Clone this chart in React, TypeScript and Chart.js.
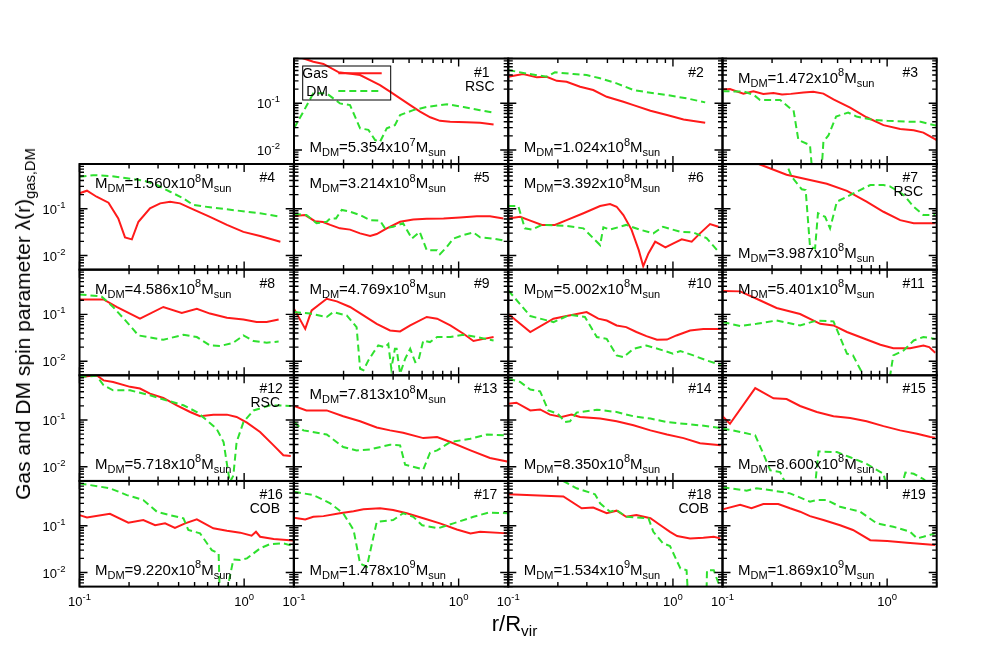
import React, { useEffect, useRef } from "react";
import { Chart, registerables } from "chart.js";

Chart.register(...registerables);

// ---------- axis ranges & ticks ----------
const X_MIN = 0.1;
const X_MAX = 2;
const Y_MIN = 0.005;
const Y_MAX = 0.9;

const xMajorTicks = [0.1, 1];
const xMinorTicks = [0.2, 0.3, 0.4, 0.5, 0.6, 0.7, 0.8, 0.9, 2];
const yMajorTicks = [0.01, 0.1];
const yMinorTicks = [
  0.005, 0.006, 0.007, 0.008, 0.009,
  0.02, 0.03, 0.04, 0.05, 0.06, 0.07, 0.08, 0.09,
  0.2, 0.3, 0.4, 0.5, 0.6, 0.7, 0.8, 0.9,
];
const xTickLabels: [number, string][] = [[0.1, "-1"], [1, "0"]];
const yTickLabels: [number, string][] = [[0.1, "-1"], [0.01, "-2"]];

// ---------- panel annotations ----------
const panelNumbers = [1, 2, 3, 4, 5, 6, 7, 8, 9, 10, 11, 12, 13, 14, 15, 16, 17, 18, 19];
const massMantissa = ["5.354", "1.024", "1.472", "1.560", "3.214", "3.392", "3.987", "4.586", "4.769", "5.002", "5.401", "5.718", "7.813", "8.350", "8.600", "9.220", "1.478", "1.534", "1.869"];
const massExponent = ["7", "8", "8", "8", "8", "8", "8", "8", "8", "8", "8", "8", "8", "8", "8", "8", "9", "9", "9"];
const massAtTop = [false, false, true, true, true, true, false, true, true, true, true, false, true, false, false, false, false, false, false];
const panelTags = ["RSC", "", "", "", "", "", "RSC", "", "", "", "", "RSC", "", "", "", "COB", "", "COB", ""];

// ---------- data: [r/Rvir, lambda] ----------
type Pt = [number, number];
const gas1: Pt[] = [[0.1,1.05],[0.117,0.88],[0.131,0.77],[0.151,0.69],[0.186,0.46],[0.252,0.40],[0.29,0.31],[0.333,0.244],[0.383,0.176],[0.441,0.127],[0.508,0.091],[0.583,0.066],[0.672,0.05],[0.77,0.042],[0.888,0.04],[1.12,0.039],[1.35,0.038],[1.63,0.035]];
const dm1: Pt[] = [[0.1,0.029],[0.114,0.066],[0.131,0.162],[0.158,0.162],[0.19,0.099],[0.219,0.091],[0.252,0.029],[0.283,0.027],[0.311,0.0163],[0.333,0.015],[0.366,0.029],[0.41,0.034],[0.441,0.056],[0.53,0.071],[0.64,0.083],[0.85,0.095],[1.07,0.083],[1.35,0.071],[1.63,0.0625]];
const gas2: Pt[] = [[0.1,0.367],[0.123,0.42],[0.149,0.356],[0.171,0.367],[0.197,0.30],[0.226,0.287],[0.273,0.225],[0.328,0.191],[0.396,0.137],[0.5,0.107],[0.576,0.091],[0.73,0.069],[0.92,0.056],[1.16,0.045],[1.57,0.038]];
const dm2: Pt[] = [[0.1,0.51],[0.129,0.43],[0.171,0.367],[0.192,0.456],[0.248,0.42],[0.299,0.40],[0.361,0.34],[0.455,0.265],[0.576,0.191],[0.73,0.167],[0.92,0.149],[1.21,0.127],[1.57,0.104]];
const gas3: Pt[] = [[0.1,0.195],[0.111,0.20],[0.134,0.16],[0.154,0.18],[0.177,0.158],[0.204,0.165],[0.23,0.153],[0.26,0.158],[0.31,0.17],[0.356,0.175],[0.41,0.16],[0.472,0.12],[0.596,0.08],[0.75,0.05],[0.95,0.034],[1.2,0.028],[1.45,0.0265],[1.66,0.0235],[2.0,0.0163]];
const dm3: Pt[] = [[0.1,0.18],[0.135,0.177],[0.155,0.15],[0.169,0.117],[0.224,0.117],[0.255,0.08],[0.27,0.071],[0.289,0.0163],[0.34,0.0127],[0.35,0.0037],[0.40,0.0037],[0.41,0.015],[0.44,0.0205],[0.49,0.052],[0.58,0.063],[0.65,0.052],[0.82,0.044],[1.0,0.042],[1.38,0.040],[1.6,0.040],[2.0,0.033]];
const gas4: Pt[] = [[0.1,0.213],[0.111,0.242],[0.127,0.18],[0.150,0.134],[0.172,0.062],[0.189,0.0244],[0.208,0.0221],[0.228,0.0526],[0.268,0.102],[0.309,0.13],[0.355,0.141],[0.408,0.13],[0.49,0.097],[0.62,0.067],[0.786,0.045],[0.99,0.032],[1.25,0.026],[1.66,0.0197]];
const dm4: Pt[] = [[0.1,0.48],[0.121,0.52],[0.153,0.50],[0.194,0.446],[0.244,0.40],[0.295,0.32],[0.355,0.23],[0.428,0.166],[0.49,0.12],[0.62,0.107],[0.786,0.097],[1.04,0.086],[1.25,0.08],[1.66,0.067]];
const gas5: Pt[] = [[0.1,0.070],[0.117,0.073],[0.134,0.054],[0.15,0.052],[0.166,0.045],[0.19,0.038],[0.219,0.0357],[0.252,0.0297],[0.29,0.026],[0.318,0.0287],[0.366,0.038],[0.441,0.0526],[0.53,0.059],[0.64,0.061],[0.81,0.062],[1.02,0.065],[1.29,0.069],[1.55,0.069],[1.87,0.062]];
const dm5: Pt[] = [[0.1,0.077],[0.119,0.073],[0.137,0.049],[0.158,0.0526],[0.166,0.062],[0.18,0.062],[0.195,0.094],[0.219,0.086],[0.252,0.073],[0.29,0.057],[0.333,0.0555],[0.357,0.038],[0.40,0.041],[0.46,0.049],[0.52,0.023],[0.58,0.032],[0.64,0.013],[0.74,0.013],[0.77,0.0107],[0.85,0.0154],[0.93,0.023],[1.07,0.0273],[1.23,0.031],[1.35,0.0244],[1.63,0.023],[1.92,0.0206]];
const gas6: Pt[] = [[0.1,0.062],[0.118,0.067],[0.136,0.0555],[0.16,0.045],[0.192,0.045],[0.226,0.057],[0.286,0.080],[0.361,0.114],[0.415,0.126],[0.455,0.11],[0.5,0.073],[0.56,0.0357],[0.62,0.013],[0.66,0.0059],[0.71,0.0111],[0.78,0.0197],[0.9,0.0149],[1.0,0.018],[1.13,0.0221],[1.3,0.0197],[1.46,0.0297],[1.68,0.047],[1.89,0.041]];
const dm6: Pt[] = [[0.1,0.114],[0.115,0.114],[0.126,0.038],[0.139,0.0357],[0.16,0.045],[0.226,0.0427],[0.286,0.038],[0.361,0.0167],[0.378,0.040],[0.415,0.0357],[0.52,0.045],[0.63,0.0357],[0.76,0.0297],[0.87,0.041],[1.11,0.032],[1.33,0.031],[1.6,0.0235],[1.89,0.012]];
const gas7: Pt[] = [[0.1,1.9],[0.169,0.88],[0.245,0.53],[0.34,0.41],[0.43,0.34],[0.57,0.24],[0.75,0.141],[0.95,0.086],[1.2,0.057],[1.45,0.049],[1.96,0.049]];
const dm7: Pt[] = [[0.2,1.4],[0.245,0.9],[0.263,0.48],[0.303,0.26],[0.32,0.25],[0.34,0.0154],[0.365,0.0142],[0.38,0.08],[0.42,0.067],[0.45,0.038],[0.495,0.141],[0.57,0.18],[0.685,0.25],[0.79,0.32],[0.95,0.32],[1.04,0.30],[1.26,0.197],[1.45,0.11],[1.66,0.073],[1.96,0.073]];
const gas8: Pt[] = [[0.1,0.209],[0.14,0.209],[0.168,0.144],[0.233,0.081],[0.323,0.144],[0.418,0.107],[0.516,0.132],[0.62,0.104],[0.786,0.085],[0.99,0.078],[1.19,0.0685],[1.37,0.0685],[1.62,0.078]];
const dm8: Pt[] = [[0.1,0.267],[0.136,0.242],[0.16,0.144],[0.194,0.0685],[0.228,0.0355],[0.323,0.0287],[0.428,0.0367],[0.516,0.0328],[0.62,0.0217],[0.72,0.0212],[0.86,0.0248],[0.99,0.0355],[1.14,0.027],[1.37,0.0248],[1.62,0.0262]];
const gas9: Pt[] = [[0.1,0.132],[0.117,0.049],[0.128,0.122],[0.158,0.216],[0.182,0.19],[0.219,0.144],[0.264,0.095],[0.318,0.063],[0.383,0.0454],[0.441,0.0433],[0.508,0.058],[0.64,0.088],[0.74,0.081],[0.89,0.058],[1.07,0.0386],[1.23,0.027],[1.42,0.030],[1.63,0.0328]];
const dm9: Pt[] = [[0.1,0.112],[0.125,0.104],[0.158,0.088],[0.173,0.112],[0.209,0.095],[0.24,0.0535],[0.252,0.0069],[0.264,0.0064],[0.283,0.0104],[0.303,0.0152],[0.325,0.0217],[0.357,0.02],[0.374,0.0235],[0.39,0.0069],[0.41,0.0184],[0.42,0.0184],[0.441,0.0054],[0.473,0.0112],[0.508,0.0184],[0.545,0.0096],[0.57,0.0104],[0.61,0.0277],[0.67,0.0256],[0.74,0.0328],[0.89,0.0328],[1.07,0.0367],[1.29,0.0328],[1.63,0.0277]];
const gas10: Pt[] = [[0.1,0.102],[0.136,0.042],[0.188,0.081],[0.226,0.092],[0.299,0.112],[0.352,0.081],[0.396,0.074],[0.455,0.058],[0.52,0.0535],[0.60,0.042],[0.69,0.0344],[0.80,0.0287],[0.92,0.029],[1.05,0.0355],[1.27,0.0454],[1.53,0.049],[1.95,0.049]];
const dm10: Pt[] = [[0.1,0.325],[0.136,0.092],[0.188,0.0685],[0.237,0.098],[0.292,0.088],[0.345,0.0328],[0.396,0.030],[0.455,0.0133],[0.50,0.0122],[0.576,0.0184],[0.69,0.0217],[0.87,0.017],[1.0,0.0145],[1.11,0.0165],[1.33,0.0133],[1.6,0.0104],[1.95,0.0084]];
const gas11: Pt[] = [[0.1,0.315],[0.128,0.31],[0.161,0.216],[0.213,0.137],[0.296,0.102],[0.392,0.063],[0.472,0.058],[0.57,0.042],[0.75,0.029],[0.91,0.0224],[1.09,0.019],[1.38,0.019],[1.66,0.0217],[1.8,0.020],[1.96,0.0152]];
const dm11: Pt[] = [[0.1,0.0685],[0.128,0.0565],[0.161,0.063],[0.213,0.074],[0.296,0.058],[0.374,0.074],[0.472,0.071],[0.57,0.0145],[0.62,0.0133],[0.70,0.0059],[0.72,0.003],[1.02,0.003],[1.09,0.0133],[1.26,0.017],[1.45,0.0277],[1.66,0.0328],[1.96,0.030]];
const gas12: Pt[] = [[0.1,0.83],[0.127,0.9],[0.14,0.70],[0.16,0.65],[0.203,0.51],[0.233,0.47],[0.268,0.366],[0.323,0.295],[0.39,0.206],[0.47,0.148],[0.54,0.12],[0.65,0.13],[0.786,0.13],[0.90,0.116],[1.04,0.088],[1.25,0.0555],[1.51,0.0287],[1.73,0.0176],[1.92,0.017]];
const dm12: Pt[] = [[0.1,0.83],[0.127,0.88],[0.14,0.55],[0.16,0.43],[0.203,0.43],[0.268,0.336],[0.355,0.25],[0.428,0.206],[0.516,0.148],[0.594,0.098],[0.68,0.065],[0.75,0.0338],[0.80,0.0077],[0.82,0.0047],[0.86,0.0065],[0.90,0.0338],[0.99,0.090],[1.14,0.16],[1.44,0.206],[1.92,0.2]];
const gas13: Pt[] = [[0.1,0.199],[0.119,0.16],[0.158,0.16],[0.199,0.12],[0.252,0.094],[0.318,0.069],[0.383,0.06],[0.46,0.0535],[0.61,0.041],[0.74,0.0433],[0.89,0.0338],[1.18,0.0224],[1.55,0.0154],[1.97,0.013]];
const dm13: Pt[] = [[0.1,0.090],[0.114,0.06],[0.158,0.049],[0.199,0.0264],[0.24,0.0224],[0.29,0.0235],[0.383,0.0297],[0.441,0.0287],[0.473,0.0111],[0.61,0.0088],[0.67,0.02],[0.74,0.0224],[0.89,0.0338],[1.18,0.0398],[1.49,0.049],[1.97,0.047]];
const gas14: Pt[] = [[0.1,0.223],[0.112,0.234],[0.136,0.16],[0.156,0.168],[0.179,0.13],[0.211,0.116],[0.242,0.13],[0.273,0.116],[0.361,0.107],[0.455,0.094],[0.576,0.077],[0.73,0.06],[0.92,0.049],[1.16,0.041],[1.46,0.032],[1.95,0.0287]];
const dm14: Pt[] = [[0.1,0.76],[0.118,0.65],[0.136,0.446],[0.156,0.41],[0.175,0.16],[0.20,0.136],[0.221,0.09],[0.237,0.094],[0.26,0.144],[0.345,0.166],[0.455,0.148],[0.576,0.12],[0.73,0.107],[0.92,0.09],[1.16,0.083],[1.46,0.077],[1.95,0.067]];
const gas15: Pt[] = [[0.1,0.12],[0.111,0.083],[0.158,0.48],[0.204,0.29],[0.245,0.28],[0.296,0.199],[0.374,0.148],[0.472,0.12],[0.596,0.11],[0.75,0.094],[0.95,0.074],[1.2,0.06],[1.52,0.051],[1.83,0.0433],[1.96,0.042]];
const dm15: Pt[] = [[0.1,0.065],[0.116,0.06],[0.158,0.047],[0.177,0.019],[0.195,0.0084],[0.224,0.0077],[0.245,0.004],[0.365,0.004],[0.383,0.0212],[0.495,0.0206],[0.596,0.016],[0.75,0.0116],[0.95,0.0071],[0.99,0.004],[1.23,0.004],[1.29,0.0075],[1.45,0.0071],[1.66,0.0055],[1.83,0.004]];
const gas16: Pt[] = [[0.1,0.168],[0.111,0.15],[0.153,0.18],[0.198,0.116],[0.244,0.132],[0.288,0.102],[0.331,0.112],[0.38,0.09],[0.438,0.112],[0.516,0.137],[0.65,0.088],[0.786,0.078],[0.946,0.071],[1.11,0.061],[1.18,0.074],[1.25,0.058],[1.51,0.052],[1.98,0.048]];
const dm16: Pt[] = [[0.1,0.8],[0.153,0.63],[0.194,0.45],[0.244,0.353],[0.295,0.199],[0.355,0.168],[0.428,0.144],[0.458,0.081],[0.54,0.0685],[0.636,0.030],[0.70,0.0256],[0.71,0.004],[0.786,0.004],[0.86,0.019],[0.946,0.0184],[1.04,0.02],[1.25,0.0328],[1.44,0.0405],[1.73,0.042],[1.98,0.0367]];
const gas17: Pt[] = [[0.1,0.148],[0.117,0.136],[0.131,0.155],[0.151,0.16],[0.19,0.184],[0.23,0.203],[0.264,0.225],[0.333,0.235],[0.40,0.216],[0.484,0.184],[0.61,0.144],[0.77,0.112],[0.975,0.083],[1.18,0.0685],[1.35,0.074],[1.99,0.0685]];
const dm17: Pt[] = [[0.1,0.53],[0.131,0.45],[0.166,0.30],[0.199,0.184],[0.23,0.081],[0.252,0.0155],[0.277,0.0133],[0.318,0.12],[0.40,0.132],[0.46,0.184],[0.53,0.155],[0.60,0.102],[0.75,0.088],[0.93,0.112],[1.23,0.155],[1.52,0.19],[1.99,0.184]];
const gas18: Pt[] = [[0.1,0.47],[0.216,0.42],[0.279,0.235],[0.328,0.245],[0.396,0.184],[0.455,0.209],[0.52,0.155],[0.60,0.168],[0.73,0.144],[0.84,0.102],[0.96,0.074],[1.06,0.06],[1.27,0.0535],[1.53,0.0555],[1.77,0.058],[1.94,0.0535]];
const dm18: Pt[] = [[0.1,1.3],[0.216,0.9],[0.26,0.63],[0.336,0.47],[0.361,0.30],[0.415,0.199],[0.455,0.216],[0.52,0.155],[0.71,0.144],[0.76,0.074],[0.87,0.042],[0.96,0.0367],[1.11,0.0122],[1.21,0.0112],[1.23,0.004],[1.60,0.004],[1.61,0.0112],[1.77,0.0112],[1.89,0.0059],[1.94,0.004]];
const gas19: Pt[] = [[0.1,0.223],[0.128,0.28],[0.15,0.235],[0.177,0.29],[0.218,0.29],[0.257,0.235],[0.296,0.199],[0.34,0.16],[0.41,0.132],[0.518,0.102],[0.62,0.081],[0.79,0.049],[1.0,0.047],[1.32,0.0433],[1.96,0.0386]];
const dm19: Pt[] = [[0.1,0.66],[0.14,0.56],[0.161,0.63],[0.204,0.56],[0.257,0.49],[0.34,0.325],[0.374,0.353],[0.43,0.353],[0.518,0.254],[0.685,0.199],[0.866,0.112],[1.09,0.095],[1.38,0.074],[1.52,0.0535],[1.66,0.058],[1.96,0.0685]];

const gasSeries = [gas1, gas2, gas3, gas4, gas5, gas6, gas7, gas8, gas9, gas10, gas11, gas12, gas13, gas14, gas15, gas16, gas17, gas18, gas19];
const dmSeries = [dm1, dm2, dm3, dm4, dm5, dm6, dm7, dm8, dm9, dm10, dm11, dm12, dm13, dm14, dm15, dm16, dm17, dm18, dm19];

// ---------- layout / style ----------
const FONT = "'Liberation Sans', Arial, Helvetica, sans-serif";
const RED = "#ff1a1a";
const GREEN = "#2ee02e";
const COL_LEFT = [79.5, 294, 508.3, 722.5];
const ROW_TOP = [58.5, 164, 269.7, 375.3, 481];
const PANEL_W = 214.2;
const PANEL_H = 105.6;
const ML = 50, MR = 8, MT = 8, MB = 28;

type Seg = { t: string; k: 0 | 1 | 2 };

function drawRich(
  ctx: CanvasRenderingContext2D, segs: Seg[], x: number, y: number,
  base: number, small: number, subDy: number, supDy: number, align: "left" | "center" | "right"
) {
  const fN = `${base}px ${FONT}`;
  const fS = `${small}px ${FONT}`;
  let total = 0;
  for (const s of segs) {
    ctx.font = s.k ? fS : fN;
    total += ctx.measureText(s.t).width;
  }
  let cx = align === "left" ? x : align === "center" ? x - total / 2 : x - total;
  ctx.textAlign = "left";
  ctx.textBaseline = "alphabetic";
  for (const s of segs) {
    ctx.font = s.k ? fS : fN;
    ctx.fillText(s.t, cx, y + (s.k === 1 ? subDy : s.k === 2 ? supDy : 0));
    cx += ctx.measureText(s.t).width;
  }
}

function panelGrid(i: number) {
  if (i < 3) return { row: 0, col: i + 1 };
  return { row: Math.floor((i - 3) / 4) + 1, col: (i - 3) % 4 };
}

function makeDeco(i: number) {
  const { row, col } = panelGrid(i);
  const showY = col === 0 || i === 0;
  const showX = row === 4;
  return {
    id: "deco" + i,
    afterDraw(chart: any) {
      const ctx: CanvasRenderingContext2D = chart.ctx;
      const xs = chart.scales.x;
      const ys = chart.scales.y;
      const { left, right, top, bottom } = chart.chartArea;
      ctx.save();
      ctx.strokeStyle = "#000";
      ctx.fillStyle = "#000";
      // ticks
      ctx.lineWidth = 1.4;
      ctx.beginPath();
      const xt = (v: number, len: number) => {
        const px = xs.getPixelForValue(v);
        ctx.moveTo(px, bottom); ctx.lineTo(px, bottom - len);
        ctx.moveTo(px, top); ctx.lineTo(px, top + len);
      };
      const yt = (v: number, len: number) => {
        const py = ys.getPixelForValue(v);
        ctx.moveTo(left, py); ctx.lineTo(left + len, py);
        ctx.moveTo(right, py); ctx.lineTo(right - len, py);
      };
      xMajorTicks.forEach((v) => xt(v, 8));
      xMinorTicks.forEach((v) => xt(v, 4.5));
      yMajorTicks.forEach((v) => yt(v, 8));
      yMinorTicks.forEach((v) => yt(v, 4.5));
      ctx.stroke();
      // frame
      ctx.lineWidth = 2;
      ctx.strokeRect(left, top, right - left, bottom - top);
      // tick labels
      if (showY) {
        yTickLabels.forEach(([v, e]) => {
          const py = ys.getPixelForValue(v);
          drawRich(ctx, [{ t: "10", k: 0 }, { t: e, k: 2 }], left - 14, py + 5, 13, 9.5, 0, -6, "right");
        });
      }
      if (showX) {
        xTickLabels.forEach(([v, e]) => {
          const px = xs.getPixelForValue(v);
          drawRich(ctx, [{ t: "10", k: 0 }, { t: e, k: 2 }], px, bottom + 19, 13, 9.5, 0, -6, "center");
        });
      }
      // panel number and tag
      drawRich(ctx, [{ t: "#" + panelNumbers[i], k: 0 }], left + 180, top + 18, 14, 10, 0, 0, "left");
      if (panelTags[i]) {
        drawRich(ctx, [{ t: panelTags[i], k: 0 }], left + 200.5, top + 32, 14, 10, 0, 0, "right");
      }
      // mass label
      const mass: Seg[] = [
        { t: "M", k: 0 }, { t: "DM", k: 1 }, { t: "=" + massMantissa[i] + "x10", k: 0 },
        { t: massExponent[i], k: 2 }, { t: "M", k: 0 }, { t: "sun", k: 1 },
      ];
      drawRich(ctx, mass, left + 15.5, top + (massAtTop[i] ? 24 : 93.5), 15, 11, 4, -6.5, "left");
      // key (panel #1 only)
      if (i === 0) {
        ctx.lineWidth = 1;
        ctx.strokeRect(left + 8.7, top + 7.5, 88, 34);
        drawRich(ctx, [{ t: "Gas", k: 0 }], left + 34, top + 19.8, 14, 10, 0, 0, "right");
        drawRich(ctx, [{ t: "DM", k: 0 }], left + 34, top + 37.5, 14, 10, 0, 0, "right");
        ctx.lineWidth = 2;
        ctx.strokeStyle = RED;
        ctx.beginPath();
        ctx.moveTo(left + 44.3, top + 14.8); ctx.lineTo(left + 87.7, top + 14.8);
        ctx.stroke();
        ctx.strokeStyle = GREEN;
        ctx.setLineDash([7, 4]);
        ctx.beginPath();
        ctx.moveTo(left + 44.3, top + 32.5); ctx.lineTo(left + 87.7, top + 32.5);
        ctx.stroke();
        ctx.setLineDash([]);
      }
      ctx.restore();
    },
  };
}

function Panel({ i }: { i: number }) {
  const ref = useRef<HTMLCanvasElement>(null);
  const { row, col } = panelGrid(i);
  const pl = COL_LEFT[col];
  const pt = ROW_TOP[row];
  const cLeft = Math.floor(pl) - ML;
  const cTop = Math.floor(pt) - MT;
  const W = ML + MR + Math.ceil(PANEL_W) + 1;
  const H = MT + MB + Math.ceil(PANEL_H) + 1;
  const padLeft = pl - cLeft;
  const padTop = pt - cTop;
  const padRight = W - padLeft - PANEL_W;
  const padBottom = H - padTop - PANEL_H;

  useEffect(() => {
    if (!ref.current) return;
    const toXY = (s: Pt[]) => s.map(([x, y]) => ({ x, y }));
    const chart = new Chart(ref.current, {
      type: "scatter",
      data: {
        datasets: [
          {
            label: "Gas", data: toXY(gasSeries[i]), showLine: true, borderColor: RED,
            backgroundColor: RED, borderWidth: 2, pointRadius: 0, pointHoverRadius: 0,
            tension: 0, clip: 0, order: 1,
          } as any,
          {
            label: "DM", data: toXY(dmSeries[i]), showLine: true, borderColor: GREEN,
            backgroundColor: GREEN, borderWidth: 2, borderDash: [7, 4], pointRadius: 0,
            pointHoverRadius: 0, tension: 0, clip: 0, order: 0,
          } as any,
        ],
      },
      options: {
        responsive: false,
        maintainAspectRatio: false,
        animation: false,
        devicePixelRatio: 1,
        events: [],
        layout: { padding: { left: padLeft, right: padRight, top: padTop, bottom: padBottom } },
        scales: {
          x: { type: "logarithmic", min: X_MIN, max: X_MAX, display: false },
          y: { type: "logarithmic", min: Y_MIN, max: Y_MAX, display: false },
        },
        plugins: { legend: { display: false }, tooltip: { enabled: false } },
      },
      plugins: [makeDeco(i)],
    });
    return () => chart.destroy();
  }, [i]);

  return (
    <canvas
      ref={ref}
      width={W}
      height={H}
      style={{ position: "absolute", left: cLeft, top: cTop, width: W, height: H }}
    />
  );
}

export default function App() {
  return (
    <div
      style={{
        position: "absolute", left: 0, top: 0, width: 981, height: 654,
        background: "#fff", overflow: "hidden", fontFamily: FONT,
      }}
    >
      {panelNumbers.map((_, i) => (
        <Panel key={i} i={i} />
      ))}
      <div
        style={{
          position: "absolute", left: 24, top: 323.5, transform: "translate(-50%, -50%) rotate(-90deg)",
          whiteSpace: "nowrap", fontSize: 21, lineHeight: "21px", color: "#000",
        }}
      >
        Gas and DM spin parameter λ(r)
        <span style={{ fontSize: "70%", position: "relative", top: "0.35em" }}>gas,DM</span>
      </div>
      <div
        style={{
          position: "absolute", left: 491.7, top: 613, whiteSpace: "nowrap",
          fontSize: 22, lineHeight: "22px", color: "#000",
        }}
      >
        r/R<span style={{ fontSize: "70%", position: "relative", top: "0.35em" }}>vir</span>
      </div>
    </div>
  );
}
